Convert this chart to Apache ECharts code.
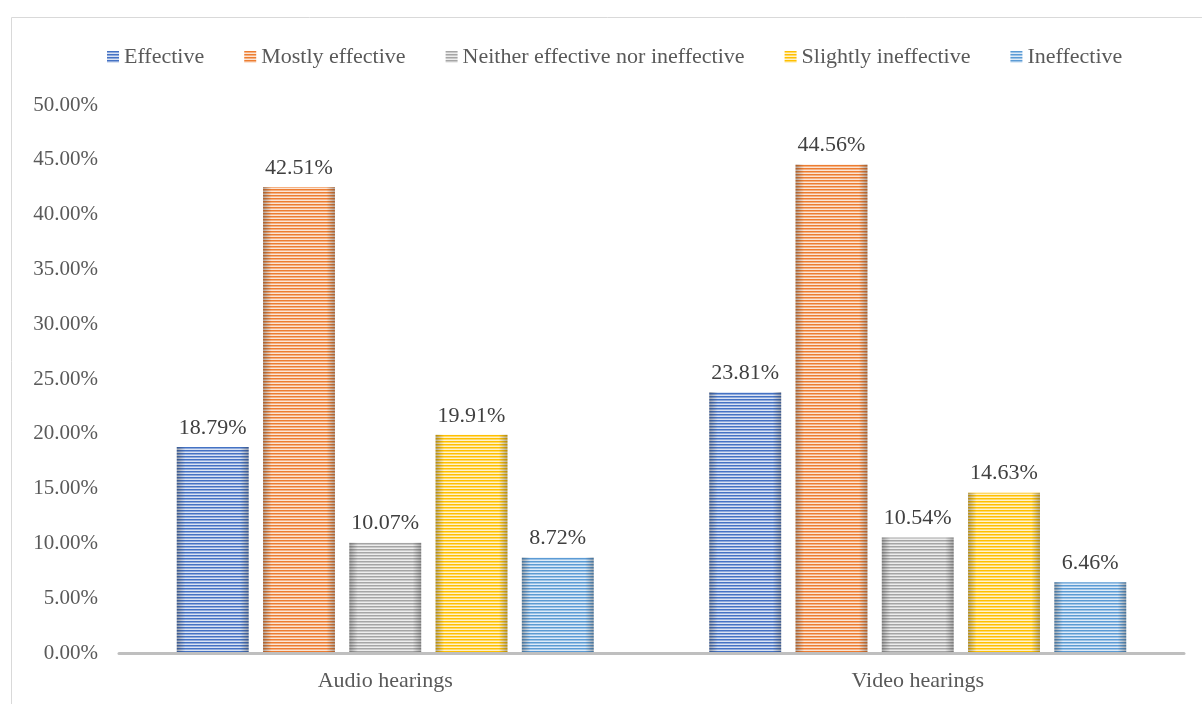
<!DOCTYPE html>
<html>
<head>
<meta charset="utf-8">
<script src="https://cdn.jsdelivr.net/npm/echarts@6/dist/echarts.min.js"></script>
<style>
  html, body { margin: 0; padding: 0; background: #fff; }
  #main { width: 1202px; height: 704px; }
</style>
</head>
<body>
<div id="main"></div>
<script>
// categories and values
var categories = ['Audio hearings', 'Video hearings'];
var seriesNames = ['Effective', 'Mostly effective', 'Neither effective nor ineffective', 'Slightly ineffective', 'Ineffective'];
var effective = [18.79, 23.81];
var mostlyEffective = [42.51, 44.56];
var neither = [10.07, 10.54];
var slightlyIneffective = [19.91, 14.63];
var ineffective = [8.72, 6.46];
var colors = ['#4472C4', '#ED7D31', '#A5A5A5', '#FFC000', '#5B9BD5'];
var midColors = ['#8FAADC', '#F4B183', '#C9C9C9', '#FFD966', '#9DC3E6'];
var lightColors = ['#DAE3F3', '#FBE5D6', '#EDEDED', '#FFF2CC', '#DEEBF7'];

// horizontal stripe pattern for bars
function stripes(i) {
    var c = document.createElement('canvas');
    c.width = 4; c.height = 3;
    var ctx = c.getContext('2d');
    ctx.fillStyle = colors[i]; ctx.fillRect(0, 0, 4, 1);
    ctx.fillStyle = midColors[i]; ctx.fillRect(0, 1, 4, 1);
    ctx.fillStyle = lightColors[i]; ctx.fillRect(0, 2, 4, 1);
    return { image: c, repeat: 'repeat' };
}

var font = '"Liberation Serif", "DejaVu Serif", serif';
var allData = [effective, mostlyEffective, neither, slightlyIneffective, ineffective];
var series = [];
for (var i = 0; i < seriesNames.length; i++) {
    series.push({
        name: seriesNames[i],
        type: 'bar',
        data: allData[i],
        barGap: '20%',
        barCategoryGap: '21.7%',
        itemStyle: { color: stripes(i) },
        label: {
            show: true,
            position: 'top',
            distance: 8,
            color: '#404040',
            fontFamily: font,
            fontSize: 22,
            formatter: function (p) { return p.value.toFixed(2) + '%'; }
        }
    });
}
// darker edges on each bar, drawn on a hidden twin axis so the bars line up
for (var j = 0; j < seriesNames.length; j++) {
    series.push({
        name: 'shade' + j,
        type: 'bar',
        xAxisIndex: 1,
        data: allData[j],
        barGap: '20%',
        barCategoryGap: '21.7%',
        silent: true,
        itemStyle: {
            color: {
                type: 'linear', x: 0, y: 0, x2: 1, y2: 0,
                colorStops: [
                    { offset: 0, color: 'rgba(40,40,40,0.35)' },
                    { offset: 0.12, color: 'rgba(40,40,40,0)' },
                    { offset: 0.88, color: 'rgba(40,40,40,0)' },
                    { offset: 1, color: 'rgba(40,40,40,0.35)' }
                ]
            }
        }
    });
}

var chart = echarts.init(document.getElementById('main'));
chart.setOption({
    animation: false,
    textStyle: { fontFamily: font },
    graphic: [{
        type: 'rect',
        shape: { x: 11.5, y: 17.5, width: 1200, height: 700 },
        style: { fill: 'none', stroke: '#d9d9d9', lineWidth: 1 },
        silent: true
    }],
    legend: {
        top: 41,
        left: 102,
        itemWidth: 12,
        itemHeight: 12,
        itemGap: 40,
        icon: 'rect',
        textStyle: { color: '#595959', fontSize: 22, fontFamily: font },
        data: seriesNames
    },
    grid: { left: 119, right: 18, top: 105, bottom: 51 },
    xAxis: [{
        type: 'category',
        data: categories,
        z: 3,
        axisLine: { lineStyle: { color: '#BFBFBF', width: 3 } },
        axisTick: { show: false },
        axisLabel: { color: '#595959', fontSize: 22, fontFamily: font, margin: 17 }
    }, {
        type: 'category',
        data: categories,
        show: false
    }],
    yAxis: {
        type: 'value',
        min: 0,
        max: 50,
        interval: 5,
        splitLine: { show: false },
        axisLine: { show: false },
        axisTick: { show: false },
        axisLabel: {
            color: '#595959', fontSize: 21, fontFamily: font, margin: 21,
            formatter: function (v) { return v.toFixed(2) + '%'; }
        }
    },
    series: series
});
</script>
</body>
</html>
